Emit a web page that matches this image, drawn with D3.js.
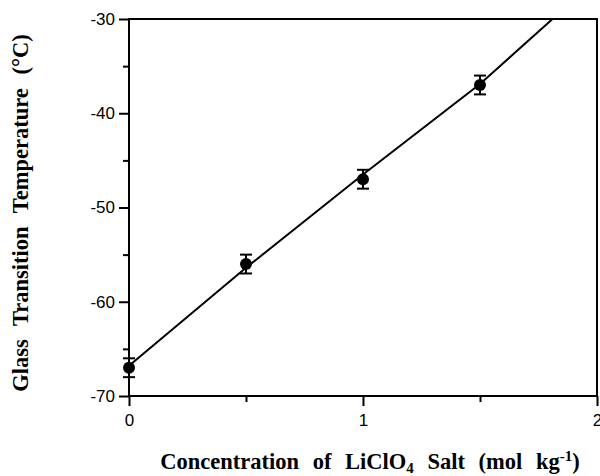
<!DOCTYPE html>
<html>
<head>
<meta charset="utf-8">
<script src="https://cdn.jsdelivr.net/npm/d3@7"></script>
<style>
  body { margin: 0; background: #fff; }
  .tick text { font-family: "Liberation Sans", Arial, sans-serif; font-size: 17px; fill: #000; }
  .axisText { font-family: "Liberation Serif", "Times New Roman", serif; font-weight: bold; font-size: 22.5px; fill: #000; }
</style>
</head>
<body>
<div id="chart"></div>
<script>
// measured points (salt conc. vs Tg) with +/- error
var conc = [0, 0.5, 1, 1.5];
var tg = [-67, -56, -47, -37];
var err = [1, 1, 1, 1];

// fitted line
var fitX = [0, 0.5, 1, 1.5, 1.81];
var fitY = [-66.8, -56.4, -46.5, -36.9, -30];

var xTicks = [0, 1, 2];
var yTicks = [-70, -60, -50, -40, -30];

var margin = {top: 19, right: 3, bottom: 80, left: 129},
    width = 600 - margin.left - margin.right,
    height = 476 - margin.top - margin.bottom;

var svg = d3.select("#chart")
  .append("svg")
  .attr("width", width + margin.left + margin.right)
  .attr("height", height + margin.top + margin.bottom)
  .append("g")
  .attr("transform", "translate(" + margin.left + "," + margin.top + ")");

var x = d3.scaleLinear().domain([0, 2]).range([0, width]);
var y = d3.scaleLinear().domain([-70, -30]).range([height, 0]);

var fmt = function(d) { return String(d); };  // plain hyphen minus

// minor ticks
svg.append("g")
  .attr("transform", "translate(0," + height + ")")
  .call(d3.axisBottom(x).tickValues([0.5, 1.5]).tickSize(6).tickFormat(""))
  .call(g => g.select(".domain").remove())
  .selectAll("line").attr("stroke-width", 2);
svg.append("g")
  .call(d3.axisLeft(y).tickValues([-65, -55, -45, -35]).tickSize(6).tickFormat(""))
  .call(g => g.select(".domain").remove())
  .selectAll("line").attr("stroke-width", 2);

// major ticks
var xAxis = svg.append("g")
  .attr("transform", "translate(0," + height + ")")
  .call(d3.axisBottom(x).tickValues(xTicks).tickSize(10).tickPadding(8).tickFormat(fmt));
xAxis.select(".domain").remove();
xAxis.selectAll("line").attr("stroke-width", 2);

var yAxis = svg.append("g")
  .call(d3.axisLeft(y).tickValues(yTicks).tickSize(10).tickPadding(4).tickFormat(fmt));
yAxis.select(".domain").remove();
yAxis.selectAll("line").attr("stroke-width", 2);

// frame
svg.append("rect")
  .attr("x", 0).attr("y", 0)
  .attr("width", width).attr("height", height)
  .attr("fill", "none")
  .attr("stroke", "#000")
  .attr("stroke-width", 2);

// fit line
var line = d3.line().x(function(d, i) { return x(fitX[i]); }).y(function(d) { return y(d); });
svg.append("path")
  .datum(fitY)
  .attr("d", line)
  .attr("fill", "none")
  .attr("stroke", "#000")
  .attr("stroke-width", 2);

// error bars
var pts = conc.map(function(c, i) { return {x: c, y: tg[i], e: err[i]}; });
var eb = svg.append("g").selectAll(null).data(pts).enter().append("g");
eb.append("line")
  .attr("x1", d => x(d.x)).attr("x2", d => x(d.x))
  .attr("y1", d => y(d.y - d.e)).attr("y2", d => y(d.y + d.e))
  .attr("stroke", "#000").attr("stroke-width", 2);
eb.append("line")
  .attr("x1", d => x(d.x) - 6).attr("x2", d => x(d.x) + 6)
  .attr("y1", d => y(d.y + d.e)).attr("y2", d => y(d.y + d.e))
  .attr("stroke", "#000").attr("stroke-width", 2);
eb.append("line")
  .attr("x1", d => x(d.x) - 6).attr("x2", d => x(d.x) + 6)
  .attr("y1", d => y(d.y - d.e)).attr("y2", d => y(d.y - d.e))
  .attr("stroke", "#000").attr("stroke-width", 2);

// dots
svg.append("g").selectAll(null).data(pts).enter()
  .append("circle")
  .attr("cx", d => x(d.x))
  .attr("cy", d => y(d.y))
  .attr("r", 6)
  .attr("fill", "#000");

// axis labels
svg.append("text")
  .attr("class", "axisText")
  .attr("transform", "rotate(-90)")
  .attr("x", -194)
  .attr("y", -101)
  .attr("text-anchor", "middle")
  .attr("word-spacing", "8px")
  .text("Glass Transition Temperature (°C)");

var xl = svg.append("text")
  .attr("class", "axisText")
  .attr("x", 241)
  .attr("y", 450)
  .attr("text-anchor", "middle")
  .attr("word-spacing", "8px");
xl.append("tspan").text("Concentration of LiClO");
xl.append("tspan").attr("font-size", "15px").attr("dy", 4).text("4");
xl.append("tspan").attr("dy", -4).text(" Salt (mol kg");
xl.append("tspan").attr("font-size", "15px").attr("dy", -8).text("-1");
xl.append("tspan").attr("dy", 8).text(")");
</script>
</body>
</html>
